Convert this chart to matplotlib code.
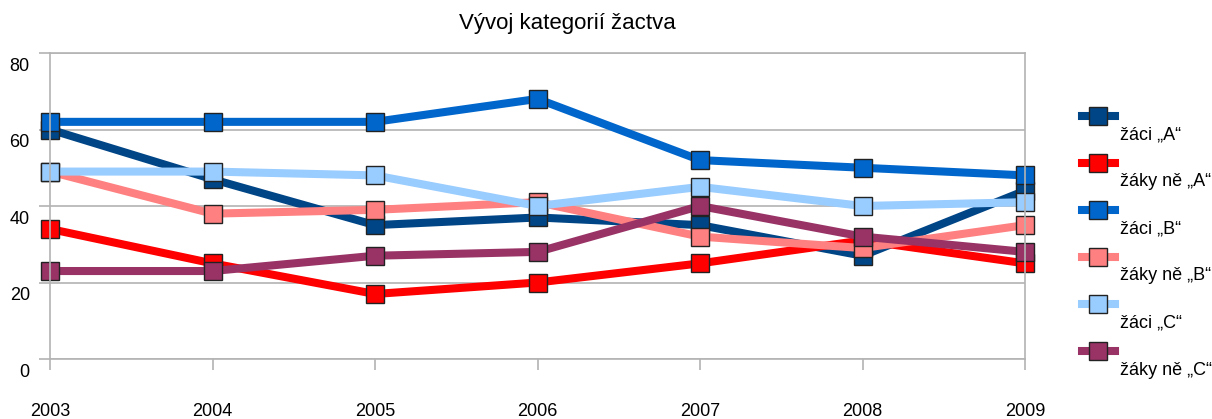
import numpy as np
import matplotlib
matplotlib.use('Agg')
import matplotlib.pyplot as plt
from matplotlib.lines import Line2D
from matplotlib.transforms import ScaledTranslation

plt.rcParams['font.family'] = ['Liberation Sans', 'DejaVu Sans']

years = ['2003', '2004', '2005', '2006', '2007', '2008', '2009']
labels = ['žáci „A“', 'žáky ně „A“', 'žáci „B“', 'žáky ně „B“', 'žáci „C“', 'žáky ně „C“']
colors = ['#004586', '#ff0000', '#0066cc', '#ff8080', '#99ccff', '#993366']

zaci_a = [60, 47, 35, 37, 35, 27, 44]
zakyne_a = [34, 25, 17, 20, 25, 31, 25]
zaci_b = [62, 62, 62, 68, 52, 50, 48]
zakyne_b = [49, 38, 39, 41, 32, 29, 35]
zaci_c = [49, 49, 48, 40, 45, 40, 41]
zakyne_c = [23, 23, 27, 28, 40, 32, 28]

series = [zaci_a, zakyne_a, zaci_b, zakyne_b, zaci_c, zakyne_c]
yticks = [0, 20, 40, 60, 80]

grey = '#b3b3b3'

fig = plt.figure(figsize=(12.12, 4.19), dpi=100)
ax = fig.add_axes([50/1212, 1-359/419, 975/1212, 306/419])

x = np.arange(len(years))
for vals, col in zip(series, colors):
    ax.plot(x, vals, color=col, lw=5.8, marker='s', ms=13.5,
            mfc=col, mec='#222222', mew=1.0, solid_joinstyle='miter',
            clip_on=False)

ax.set_xlim(0, len(years)-1)
ax.set_ylim(0, 80)
ax.set_xticks(x)
ax.set_xticklabels(years)
ax.set_yticks(yticks)
ax.yaxis.grid(True, color=grey, lw=1.2)
ax.set_axisbelow(True)
for s in ax.spines.values():
    s.set_color(grey)
    s.set_linewidth(1.2)
ax.tick_params(axis='both', length=8, width=1.2, color=grey, labelsize=13)
ax.tick_params(axis='x', pad=24)
ax.tick_params(axis='y', pad=6.5)

# y labels sit a bit below their gridlines in the original
for lab in ax.get_yticklabels():
    lab.set_transform(lab.get_transform() + ScaledTranslation(0, -11/100, fig.dpi_scale_trans))

fig.text(567/1212, 1-23/419, 'Vývoj kategorií žactva', ha='center', va='center', fontsize=16)

# legend, drawn by hand (text under and right of the symbol)
step = 47/419
for i, (lab, col) in enumerate(zip(labels, colors)):
    ym = 1-116/419 - i*step
    fig.add_artist(Line2D([1082/1212, 1115/1212], [ym, ym], color=col, lw=5.8,
                          transform=fig.transFigure))
    fig.add_artist(Line2D([1098/1212], [ym], marker='s', ms=13.5, mfc=col,
                          mec='#222222', mew=1.0, transform=fig.transFigure))
    fig.text(1120/1212, ym - 19/419, lab, ha='left', va='center', fontsize=13)

fig.savefig('out.png', dpi=100)
